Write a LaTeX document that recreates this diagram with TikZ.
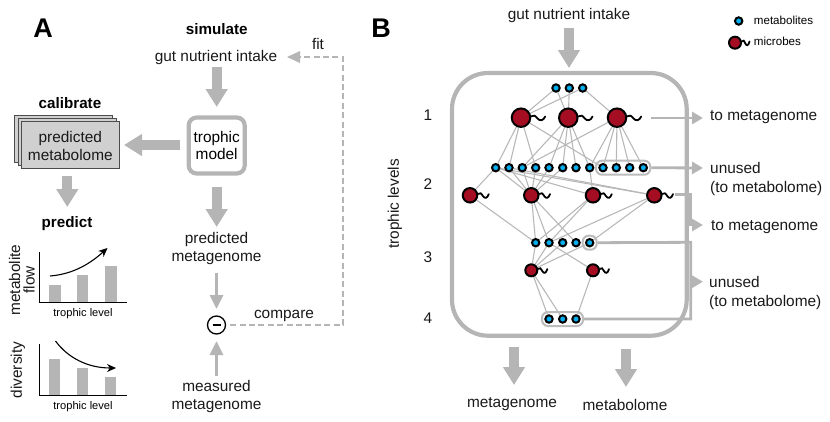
\documentclass[tikz,border=0pt]{standalone}
\usepackage{fontspec}
\setmainfont{Liberation Sans}
\usetikzlibrary{arrows.meta,backgrounds,fit,positioning}
\definecolor{arrowgray}{HTML}{B5B5B5}
\definecolor{edgegray}{HTML}{B8B8B8}
\definecolor{stackgray}{HTML}{D0D0D0}
\definecolor{metblue}{HTML}{00AEEF}
\definecolor{microred}{HTML}{A50E22}
\tikzset{
  lab/.style={font=\fontsize{15.4}{18.5}\selectfont,align=center,inner sep=0pt,text=black!90},
  head/.style={font=\bfseries\fontsize{15.2}{18}\selectfont,inner sep=0pt},
  panel/.style={font=\bfseries\fontsize{27}{30}\selectfont,inner sep=0pt},
  smalllab/.style={font=\fontsize{11.1}{13}\selectfont,inner sep=0pt},
  biglink/.style={draw=arrowgray,line width=10pt,-{Triangle[width=21pt,length=18pt]},shorten >=0pt},
  thinlink/.style={draw=arrowgray,line width=3.2pt,-{Triangle[width=13pt,length=14pt]}},
  outlink/.style={draw=arrowgray,line width=2.8pt,-{Triangle[width=12pt,length=11pt]}},
  busline/.style={draw=arrowgray,line width=2.8pt},
  dashlink/.style={draw=arrowgray,line width=2.6pt,dash pattern=on 6pt off 3.4pt},
  bar/.style={fill=arrowgray,draw=none},
  axis/.style={draw=black,line width=1pt},
  trend/.style={draw=black,line width=1.1pt,-{Stealth[width=8pt,length=9pt]}},
  stacked/.style={draw=black!70,fill=stackgray,line width=0.8pt,minimum width=98pt,minimum height=47.5pt,inner sep=0pt},
  frame/.style={draw=arrowgray,line width=4.2pt,rounded corners=36pt},
  modelbox/.style={draw=arrowgray,line width=4.2pt,rounded corners=8pt,minimum size=56pt,inner sep=0pt,fill=white,align=center,font=\fontsize{15.4}{18}\selectfont},
  metab/.style={circle,draw=black,fill=metblue,line width=2pt,minimum size=7.4pt,inner sep=0pt},
  microbe/.style={circle,draw=black,fill=microred,line width=2pt,minimum size=#1,inner sep=0pt},
  web/.style={draw=edgegray,line width=1.1pt},
  capsule/.style={draw=arrowgray!90,line width=2pt,rounded corners=6pt,inner sep=2.3pt},
  tail/.style={draw=black,line width=1.8pt,line cap=round}
}
% wavy flagellum starting on the east side of a microbe
\newcommand{\flagellum}[2]{%
  \begin{scope}[shift={(#1.east)}]
    \draw[tail] (0,-1.4) .. controls (0.16*#2,-3.4) and (0.3*#2,-1.8) .. (0.45*#2,0.8)
       .. controls (0.6*#2,3.4) and (0.85*#2,3.4) .. (#2,-1.2);
  \end{scope}}
\begin{document}
\begin{tikzpicture}[x=1pt,y=-1pt]
\useasboundingbox (0,0) rectangle (830,421);

% ---------- panel A ----------
\node[panel] (pa) at (43,28) {A};
\node[head] (sim) at (216.7,29) {simulate};
\node[lab] (gut) at (216,57.5) {gut nutrient intake};
\node[lab] (fit) at (318,44) {fit};
\node[modelbox] (model) at (216.7,145.5) {trophic\\[-1pt]model};
\node[head] (cal) at (70,103) {calibrate};
\node[stacked] (st3) at (63.7,138.9) {};
\node[stacked] (st2) at (67,141.9) {};
\node[stacked,align=center,font=\fontsize{15.4}{18}\selectfont] (st1) at (70.3,144.9) {};
\node[lab,align=center] (st1t) at (70.3,146) {predicted\\metabolome};
\node[head] (pred) at (67,223.5) {predict};
\node[lab] (pmg) at (216.5,248.5) {predicted\\metagenome};
\node[lab] (mmg) at (216.5,396.5) {measured\\metagenome};
\node[circle,draw=black,line width=1.3pt,minimum size=18pt,inner sep=0pt] (minus) at (216.5,325) {};
\draw[line width=1.2pt] (212.5,325) -- (220.5,325);
\node[lab] (cmp) at (284,315.5) {compare};

\coordinate (g1) at (216.7,67);
\coordinate (g2) at (216.7,107);
\draw[biglink] (g1) -- (g2);
\coordinate (m1) at (180,145);
\coordinate (m2) at (124,145);
\draw[biglink] (m1) -- (m2);
\coordinate (c1) at (67.3,176);
\coordinate (c2) at (67.3,207);
\draw[biglink] (c1) -- (c2);
\coordinate (t1) at (216.7,187);
\coordinate (t2) at (216.7,227);
\draw[biglink] (t1) -- (t2);
\coordinate (pm1) at (216.5,273);
\coordinate (pm2) at (216.5,309);
\draw[thinlink] (pm1) -- (pm2);
\coordinate (mm1) at (216.5,376);
\coordinate (mm2) at (216.5,341);
\draw[thinlink] (mm1) -- (mm2);
% fitting loop from the comparison back to the intake
\coordinate (loopa) at (343,325);
\coordinate (loopb) at (343,57);
\coordinate (loopc) at (299,57);
\coordinate (looptip) at (287,57);
\draw[dashlink] (minus.east) ++(4,0) -- (loopa) -- (loopb) -- (loopc);
\fill[arrowgray] (looptip) -- ++(13,-6) -- ++(0,12) -- cycle;

% metabolite flow chart
\fill[bar] (49,285) rectangle (60.7,302);
\fill[bar] (76.7,274.7) rectangle (88.3,302);
\fill[bar] (105,266) rectangle (116.7,302);
\draw[axis] (39,252) -- (39,302) -- (126.7,302);
\draw[trend] (50,276) .. controls (75,274) and (92,262) .. (107.5,248);
\node[lab,rotate=90] (flowa) at (14.5,280) {metabolite};
\node[lab,rotate=90] (flowb) at (29,280) {flow};
\node[smalllab] (xa) at (83,314) {trophic level};

% diversity chart
\fill[bar] (48.5,359) rectangle (60,395);
\fill[bar] (76.5,368) rectangle (88,395);
\fill[bar] (104.5,377) rectangle (116,395);
\draw[axis] (39,344) -- (39,395) -- (126.7,395);
\draw[trend] (55.5,341) .. controls (68,358) and (88,368) .. (116,368);
\node[lab,rotate=90] (divl) at (18,370) {diversity};
\node[smalllab] (xb) at (83,407) {trophic level};

% ---------- panel B ----------
\node[panel] (pb) at (381,28) {B};
\node[lab] (gutb) at (569,15.5) {gut nutrient intake};
\coordinate (gb1) at (569,28);
\coordinate (gb2) at (569,68);
\draw[biglink] (gb1) -- (gb2);
\draw[frame] (452,73) rectangle (686.7,335.7);

\node[lab] (l1) at (428,115) {1};
\node[lab] (l2) at (428,184) {2};
\node[lab] (l3) at (428,257) {3};
\node[lab] (l4) at (428,318) {4};
\node[lab,rotate=90] (tl) at (395,204) {trophic levels};

% legend
\node[metab] (lgm) at (738.7,21) {};
\node[smalllab,anchor=west,font=\fontsize{11.6}{13}\selectfont] (lgmt) at (753.7,20) {metabolites};
\node[microbe=12pt] (lgb) at (735,42.7) {};
\flagellum{lgb}{7.5}
\node[smalllab,anchor=west,font=\fontsize{11.6}{13}\selectfont] (lgbt) at (753.7,41) {microbes};

% nutrients entering at the top
\foreach \i/\x in {1/556,2/569.3,3/582.7} \node[metab] (a\i) at (\x,88) {};
% first microbe level
\foreach \i/\x in {1/521,2/568.3,3/617} {
  \node[microbe=18.5pt] (b\i) at (\x,117.7) {};
  \flagellum{b\i}{14}
}
% metabolites of level 2
\foreach \i/\x in {1/495.7,2/509,3/522.3,4/535.7,5/549,6/562.7,7/576,8/589.7,9/603,10/616.3,11/629.7,12/643.3}
  \node[metab] (c\i) at (\x,167.7) {};
% second microbe level
\foreach \i/\x in {1/470,2/531.3,3/593,4/654.3} {
  \node[microbe=14.5pt] (d\i) at (\x,195.3) {};
  \flagellum{d\i}{10.5}
}
% metabolites of level 3
\foreach \i/\x in {1/535.7,2/549,3/562.7,4/576,5/589.7} \node[metab] (e\i) at (\x,242.7) {};
% third microbe level
\foreach \i/\x in {1/531.3,2/593} {
  \node[microbe=12pt] (f\i) at (\x,270.3) {};
  \flagellum{f\i}{9}
}
% metabolites of level 4
\foreach \i/\x in {1/549,2/562.7,3/576} \node[metab] (h\i) at (\x,319) {};

% metabolite groups left unused by the next level
\node[capsule,fit=(c9)(c12)] (capa) {};
\node[capsule,fit=(e5)] (capb) {};
\node[capsule,fit=(h1)(h3)] (capc) {};

% feeding links
\begin{scope}[on background layer]
\foreach \u/\v in {a1/b1,a3/b1,a1/b2,a2/b2,a3/b3,
  b1/c1,b1/c2,b1/c4,b1/c9,
  b2/c3,b2/c5,b2/c6,b2/c7,b2/c8,
  b3/c3,b3/c8,b3/c9,b3/c10,b3/c11,b3/c12,
  c1/d1,c1/d2,c1/d3,c1/d4,c2/d2,c2/d4,c3/d2,c4/d2,c5/d2,c6/d2,c8/d3,
  d1/e1,d2/e1,d2/e2,d2/e4,d3/e1,d3/e2,d4/e2,d4/e5,
  e1/f1,e2/f1,e3/f1,e5/f1,e2/f2,
  f1/h1,f1/h2,f2/h3}
  \draw[web] (\u) -- (\v);
\end{scope}

% outgoing connectors on the right
\coordinate (outa) at (651,118);
\coordinate (outatip) at (703,118);
\draw[outlink] (outa) -- (outatip);
\coordinate (outbtip) at (703,168);
\draw[outlink] (capa.east) -- (outbtip);
\coordinate (outc) at (675,194.5);
\coordinate (busc) at (690.7,194.5);
\coordinate (buscb) at (690.7,225);
\coordinate (outctip) at (703,225);
\draw[outlink,rounded corners=0pt] (outc) -- (busc) -- (buscb) -- (outctip);
\coordinate (busd) at (690.7,242.3);
\coordinate (buse) at (690.7,319);
\coordinate (busm) at (690.7,281.7);
\coordinate (outdtip) at (703,281.7);
\draw[busline] (capb.east) -- (busd) -- (buse) -- (capc.east);
\draw[outlink] (busm) -- (outdtip);

\node[lab,anchor=west] (ta) at (710,117.5) {to metagenome};
\node[lab,anchor=west,align=left] (tb) at (710,179) {unused\\(to metabolome)};
\node[lab,anchor=west] (tc) at (711,227.5) {to metagenome};
\node[lab,anchor=west,align=left] (td) at (709,293) {unused\\(to metabolome)};

% community output
\coordinate (o1) at (514,347);
\coordinate (o2) at (514,385);
\draw[biglink] (o1) -- (o2);
\coordinate (o3) at (626,349);
\coordinate (o4) at (626,387);
\draw[biglink] (o3) -- (o4);
\node[lab] (omg) at (512,404.5) {metagenome};
\node[lab] (omb) at (625,405) {metabolome};
\end{tikzpicture}
\end{document}
